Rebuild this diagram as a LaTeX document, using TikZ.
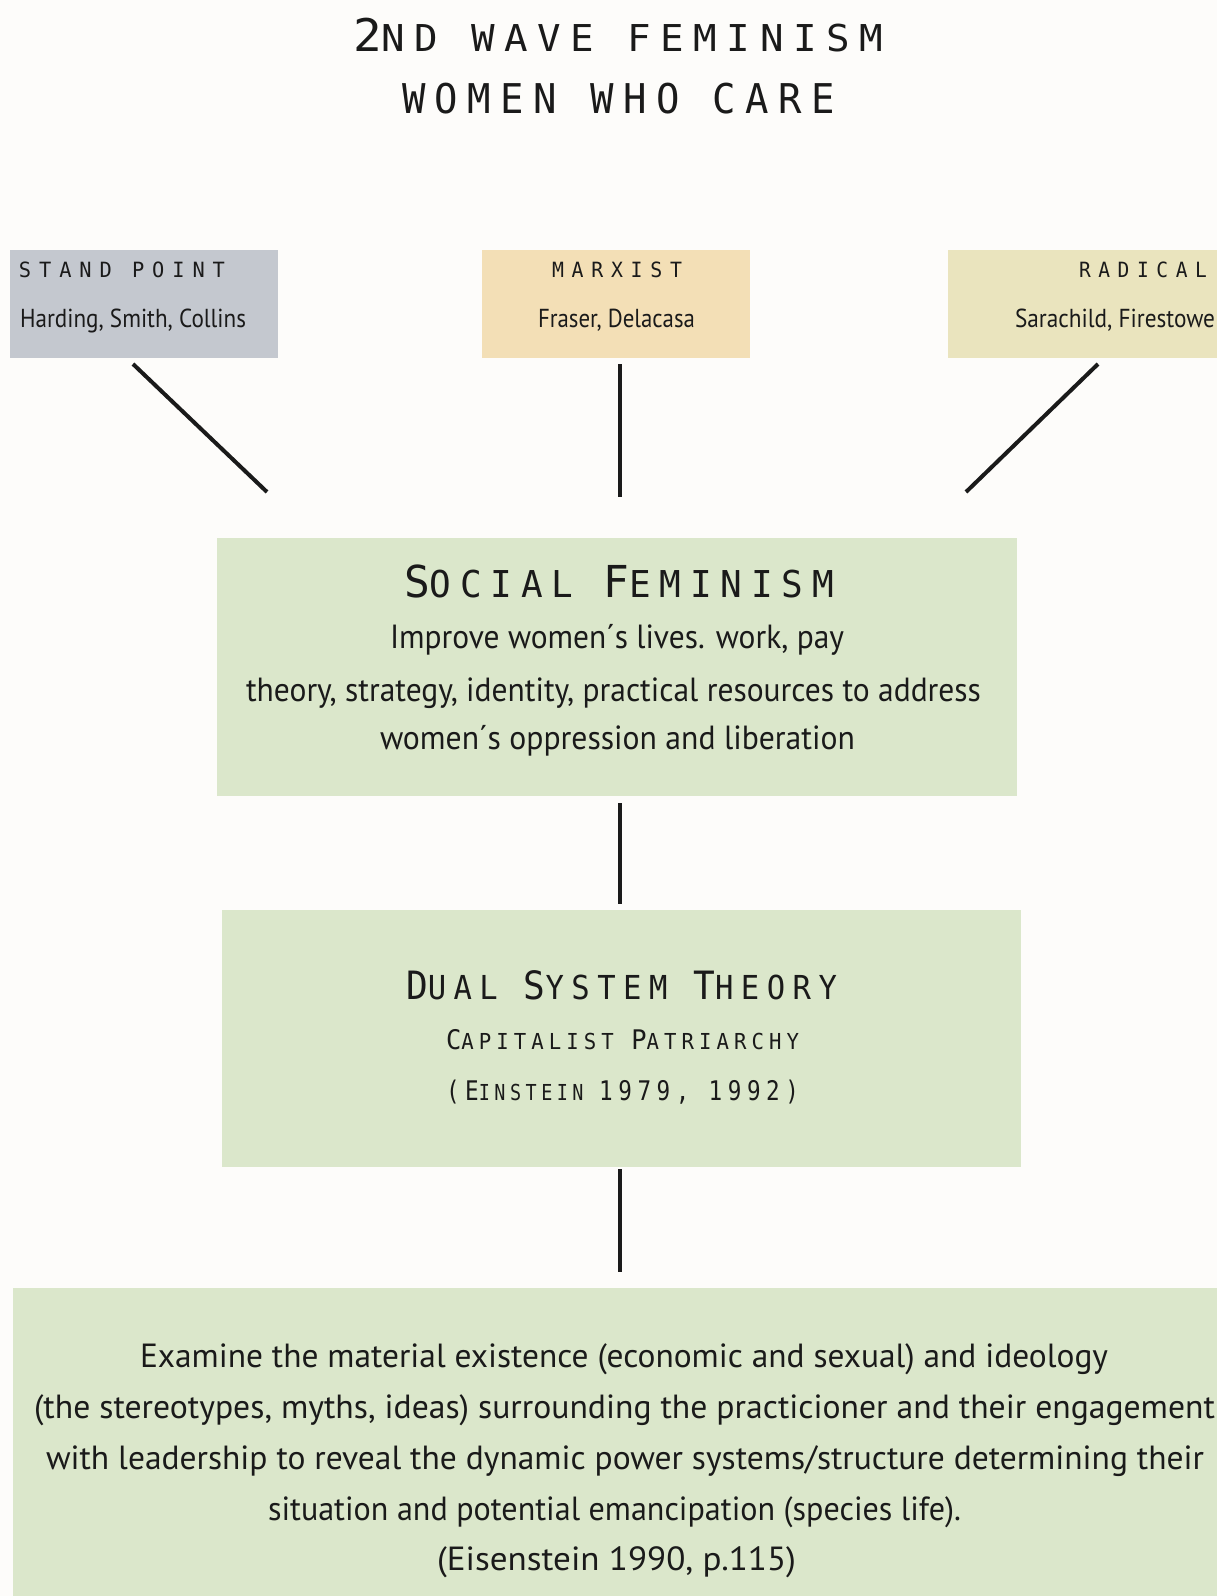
\documentclass[tikz,border=0pt]{standalone}
\usepackage{fontspec}
\usepackage{graphicx}
\setmainfont{PT Sans}
\newfontfamily\bodyf{PT Sans}
\newfontfamily\monof[FakeStretch=0.9,LetterSpace=22]{DejaVu Sans Mono}
\newfontfamily\monow[FakeStretch=0.9,LetterSpace=35]{DejaVu Sans Mono}

\definecolor{pagebg}{RGB}{253,252,250}
\definecolor{standgrey}{RGB}{196,200,207}
\definecolor{marxtan}{RGB}{243,223,182}
\definecolor{radkhaki}{RGB}{234,228,190}
\definecolor{sagegreen}{RGB}{219,231,203}
\definecolor{ink}{RGB}{26,26,26}

% font size shortcut, larger capitals for small-caps headings, width fitting
\newcommand\sz[1]{\fontsize{#1}{#1}\selectfont}
\newcommand\BL[2]{{\sz{#1}#2}}
\newcommand\fitto[2]{\sbox0{#2}\pgfmathsetmacro\fitratio{#1/\the\wd0}\scalebox{\fitratio}[1]{\usebox0}}

\tikzset{
  panel/.style={rectangle, draw=none, inner sep=0pt, outer sep=0pt},
  txt/.style={inner sep=0pt, outer sep=0pt, text=ink, anchor=base west},
  conn/.style={draw=ink, line width=4pt},
}

\begin{document}
\begin{tikzpicture}[x=1pt,y=-1pt]
\useasboundingbox (0,0) rectangle (1217,1596);
\clip (0,0) rectangle (1217,1596);
\fill[pagebg] (0,0) rectangle (1217,1596);

% boxes
\node[panel, fill=standgrey, minimum width=268pt, minimum height=107.5pt] (sp) at (144,303.75) {};
\node[panel, fill=marxtan,   minimum width=268pt, minimum height=107.5pt] (mx) at (616,303.75) {};
\node[panel, fill=radkhaki,  minimum width=290pt, minimum height=107.5pt] (rd) at (1093,303.75) {};
\node[panel, fill=sagegreen, minimum width=800pt, minimum height=258pt] (sf) at (617,667) {};
\node[panel, fill=sagegreen, minimum width=799pt, minimum height=257.5pt] (ds) at (621.5,1038.25) {};
\node[panel, fill=sagegreen, minimum width=1217pt, minimum height=322pt] (bt) at (621.5,1449) {};

% connectors
\coordinate (spEnd) at ([xshift=123pt,yshift=-6.5pt]sp.south west);
\coordinate (sfL)   at ([xshift=50pt,yshift=46pt]sf.north west);
\coordinate (mxEnd) at ([xshift=3.5pt,yshift=-6.5pt]mx.south);
\coordinate (sfM)   at ([xshift=2.5pt,yshift=41pt]sf.north);
\coordinate (rdEnd) at ([xshift=150pt,yshift=-6.5pt]rd.south west);
\coordinate (sfR)   at ([xshift=-51pt,yshift=46pt]sf.north east);
\draw[conn] (spEnd) -- (sfL);
\draw[conn] (mxEnd) -- (sfM);
\draw[conn] (rdEnd) -- (sfR);
\draw[conn] ([xshift=2.5pt,yshift=-7pt]sf.south) -- ([xshift=-2pt,yshift=5.5pt]ds.north);
\draw[conn] ([xshift=-2pt,yshift=-2pt]ds.south) -- ([xshift=-2pt,yshift=16pt]bt.north);

% title
\node[txt] (title1) at (353,51) {\fitto{530}{\monof\sz{37}\BL{45}{2}ND WAVE FEMINISM}};
\node[txt] (title2) at (402,113) {\fitto{433}{\monof\sz{41}WOMEN WHO CARE}};

% top row labels
\node[txt] (spHead)  at (19,277)   {\fitto{206}{\monow\sz{21}STAND POINT}};
\node[txt] (spNames) at (20,327)   {\fitto{226}{\bodyf\sz{26}Harding, Smith, Collins}};
\node[txt] (mxHead)  at (552,277)  {\fitto{130}{\monow\sz{21}MARXIST}};
\node[txt] (mxNames) at (538,327)  {\fitto{157}{\bodyf\sz{26}Fraser, Delacasa}};
\node[txt] (rdHead)  at (1079,277) {\fitto{128}{\monow\sz{21}RADICAL}};
\node[txt] (rdNames) at (1015,327) {\fitto{200}{\bodyf\sz{26}Sarachild, Firestowe}};

% social feminism
\node[txt] (sfHead) at (404,597) {\fitto{430}{\monof\sz{37}\BL{44}{S}OCIAL \BL{44}{F}EMINISM}};
\node[txt] (sf1) at (390,648) {\fitto{454}{\bodyf\sz{33.5}Improve women´s lives. work, pay}};
\node[txt] (sf2) at (246,701) {\fitto{735}{\bodyf\sz{33.5}theory, strategy, identity, practical resources to address}};
\node[txt] (sf3) at (380,749) {\fitto{475}{\bodyf\sz{33.5}women´s oppression and liberation}};

% dual system theory
\node[txt] (dsHead) at (406,999) {\fitto{431}{\monof\sz{33}\BL{39}{D}UAL \BL{39}{S}YSTEM \BL{39}{T}HEORY}};
\node[txt] (ds1) at (446,1049) {\fitto{353}{\monof\sz{22}\BL{27}{C}APITALIST \BL{27}{P}ATRIARCHY}};
\node[txt] (ds2) at (446,1100) {\fitto{353}{\monof\sz{22}\BL{27}{(E}INSTEIN \BL{27}{1979, 1992)}}};

% closing statement
\node[txt] (bt1) at (140,1367) {\fitto{968}{\bodyf\sz{33.5}Examine the material existence (economic and sexual) and ideology}};
\node[txt] (bt2) at (34,1418)  {\fitto{1181}{\bodyf\sz{33.5}(the stereotypes, myths, ideas) surrounding the practicioner and their engagement}};
\node[txt] (bt3) at (46,1469)  {\fitto{1158}{\bodyf\sz{33.5}with leadership to reveal the dynamic power systems/structure determining their}};
\node[txt] (bt4) at (268,1520) {\fitto{693}{\bodyf\sz{33.5}situation and potential emancipation (species life).}};
\node[txt] (bt5) at (437,1570) {\fitto{359}{\bodyf\sz{33.5}(Eisenstein 1990, p.115)}};
\end{tikzpicture}
\end{document}
